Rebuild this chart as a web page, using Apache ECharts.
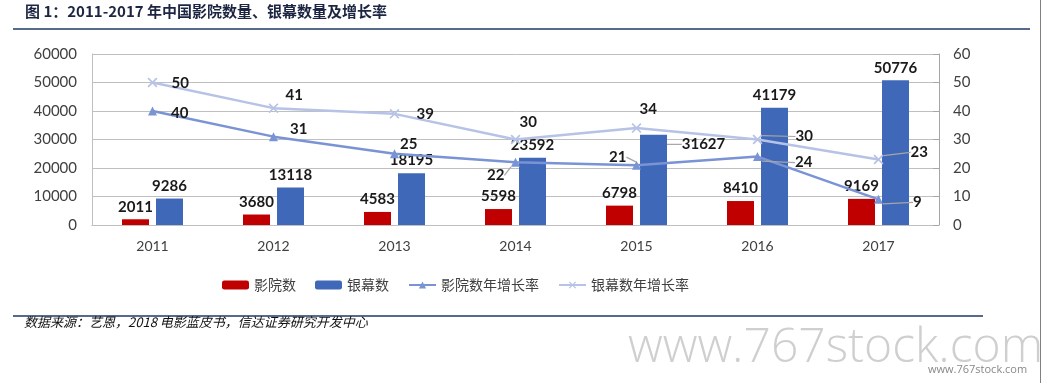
<!DOCTYPE html>
<html><head><meta charset="utf-8">
<script src="https://cdn.jsdelivr.net/npm/echarts@6/dist/echarts.min.js"></script>
<style>html,body{margin:0;padding:0;background:#fff}#c{width:1048px;height:383px}</style>
</head><body><div id="c"></div>
<script>
const categories = ['2011','2012','2013','2014','2015','2016','2017'];
const cinemas = [2011, 3680, 4583, 5598, 6798, 8410, 9169];
const screens = [9286, 13118, 18195, 23592, 31627, 41179, 50776];
const cinemaGrowth = [40, 31, 25, 22, 21, 24, 9];
const screenGrowth = [50, 41, 39, 30, 34, 30, 23];
const leftTicks = [0, 60000, 10000];
const rightTicks = [0, 60, 10];
const seriesNames = ['影院数', '银幕数', '影院数年增长率', '银幕数年增长率'];

// label nudges (dx, dy, leader)
const cgOff = [[9,2,0],[7,-7,0],[-4,-10,0],[-38,13,1],[-37,-8,1],[28,6,1],[25,3,1]];
const sgOff = [[9,1,0],[2,-13,0],[12,0,0],[-6,-17,0],[-7,-19,0],[28,-3,1],[22,-7,1]];
const scrOff = [[0,0,0],[0,0,0],[0,0,0],[0,0,0],[50,22,1],[0,0,0],[0,0,0]];

const FONT = 'Lato';
const CJK = '"Noto Sans CJK SC"';
const chart = echarts.init(document.getElementById('c'), null, {renderer:'canvas'});

function withLeader(vals, off) {
  return vals.map((v,i) => ({value: v, labelLine: {show: !!off[i][2]}}));
}
function layoutFn(off) {
  return p => ({dx: off[p.dataIndex][0], dy: off[p.dataIndex][1]});
}
const labelLineStyle = {show: false, lineStyle: {color: '#a6a6a6', width: 1.2}};
const xSym = 'path://M0,1.2L1.2,0L5,3.8L8.8,0L10,1.2L6.2,5L10,8.8L8.8,10L5,6.2L1.2,10L0,8.8L3.8,5Z';

chart.setOption({
  animation: false,
  grid: {left: 92, right: 109, top: 54, bottom: 158},
  legend: {
    left: 217, top: 273, itemWidth: 27, itemHeight: 9, itemGap: 19,
    textStyle: {fontFamily: CJK, fontSize: 14, color: '#404040'},
    data: seriesNames
  },
  xAxis: {
    type: 'category', data: categories,
    axisLine: {lineStyle: {color: '#bfbfbf'}},
    axisTick: {show: false},
    axisLabel: {fontFamily: FONT, fontSize: 14, color: '#404040', margin: 14}
  },
  yAxis: [
    {type: 'value', min: leftTicks[0], max: leftTicks[1], interval: leftTicks[2],
     axisLine: {show: true, lineStyle: {color: '#bfbfbf'}}, axisTick: {show: false},
     splitLine: {lineStyle: {color: '#bfbfbf'}},
     axisLabel: {fontFamily: FONT, fontSize: 15, color: '#404040', margin: 15, formatter: v => String(v)}},
    {type: 'value', min: rightTicks[0], max: rightTicks[1], interval: rightTicks[2], position: 'right',
     axisLine: {show: true, lineStyle: {color: '#a6a6a6'}},
     axisTick: {show: true, inside: true, length: 6, lineStyle: {color: '#a6a6a6'}},
     splitLine: {show: false},
     axisLabel: {fontFamily: FONT, fontSize: 15, color: '#404040', margin: 14, formatter: v => String(v)}}
  ],
  series: [
    {name: seriesNames[0], type: 'bar', data: cinemas, barWidth: 27, barGap: '26%',
     itemStyle: {color: '#C00000'},
     label: {show: true, position: 'top', distance: 5, fontFamily: FONT, fontWeight: 'bold', fontSize: 15, color: '#1a1a1a'}},
    {name: seriesNames[1], type: 'bar', data: withLeader(screens, scrOff), barWidth: 27,
     itemStyle: {color: '#4068B8'},
     label: {show: true, position: 'top', distance: 5, fontFamily: FONT, fontWeight: 'bold', fontSize: 15, color: '#1a1a1a'},
     labelLine: labelLineStyle, labelLayout: layoutFn(scrOff)},
    {name: seriesNames[2], type: 'line', yAxisIndex: 1, data: withLeader(cinemaGrowth, cgOff),
     symbol: 'triangle', symbolSize: 9, z: 5,
     lineStyle: {color: '#7A93D4', width: 2.5}, itemStyle: {color: '#7A93D4'},
     label: {show: true, position: 'right', distance: 5, fontFamily: FONT, fontWeight: 'bold', fontSize: 15, color: '#1a1a1a'},
     labelLine: labelLineStyle, labelLayout: layoutFn(cgOff)},
    {name: seriesNames[3], type: 'line', yAxisIndex: 1, data: withLeader(screenGrowth, sgOff),
     symbol: xSym, symbolSize: 10, z: 4,
     lineStyle: {color: '#B7C3E6', width: 2.5}, itemStyle: {color: '#B7C3E6'},
     label: {show: true, position: 'right', distance: 5, fontFamily: FONT, fontWeight: 'bold', fontSize: 15, color: '#1a1a1a'},
     labelLine: labelLineStyle, labelLayout: layoutFn(sgOff)}
  ],
  graphic: [
    {type: 'text', left: 25, top: 4, style: {text: '图 1：2011-2017 年中国影院数量、银幕数量及增长率', font: 'bold 15px "Noto Sans CJK SC"', fill: '#1c2541'}},
    {type: 'line', shape: {x1: 13, y1: 29, x2: 1030, y2: 29}, style: {stroke: '#1F3864', lineWidth: 1.5}},
    {type: 'line', shape: {x1: 13, y1: 316, x2: 983, y2: 316}, style: {stroke: '#1F3864', lineWidth: 1.5}},
    {type: 'line', shape: {x1: 1040.5, y1: 0, x2: 1040.5, y2: 383}, style: {stroke: '#808080', lineWidth: 1}},
    {type: 'text', left: 24, top: 316, style: {text: '数据来源：艺恩，2018 电影蓝皮书，信达证券研究开发中心', font: 'italic 13px "Noto Sans CJK SC"', fill: '#111'}},
    {type: 'text', left: 628, top: 324, style: {text: 'www.767stock.com', font: '300 48px "Open Sans"', fill: '#cfcfcf'}},
    {type: 'text', left: 928, top: 364, style: {text: 'www.767stock.com', font: '11px "Open Sans"', fill: '#888'}}
  ]
});
</script></body></html>
